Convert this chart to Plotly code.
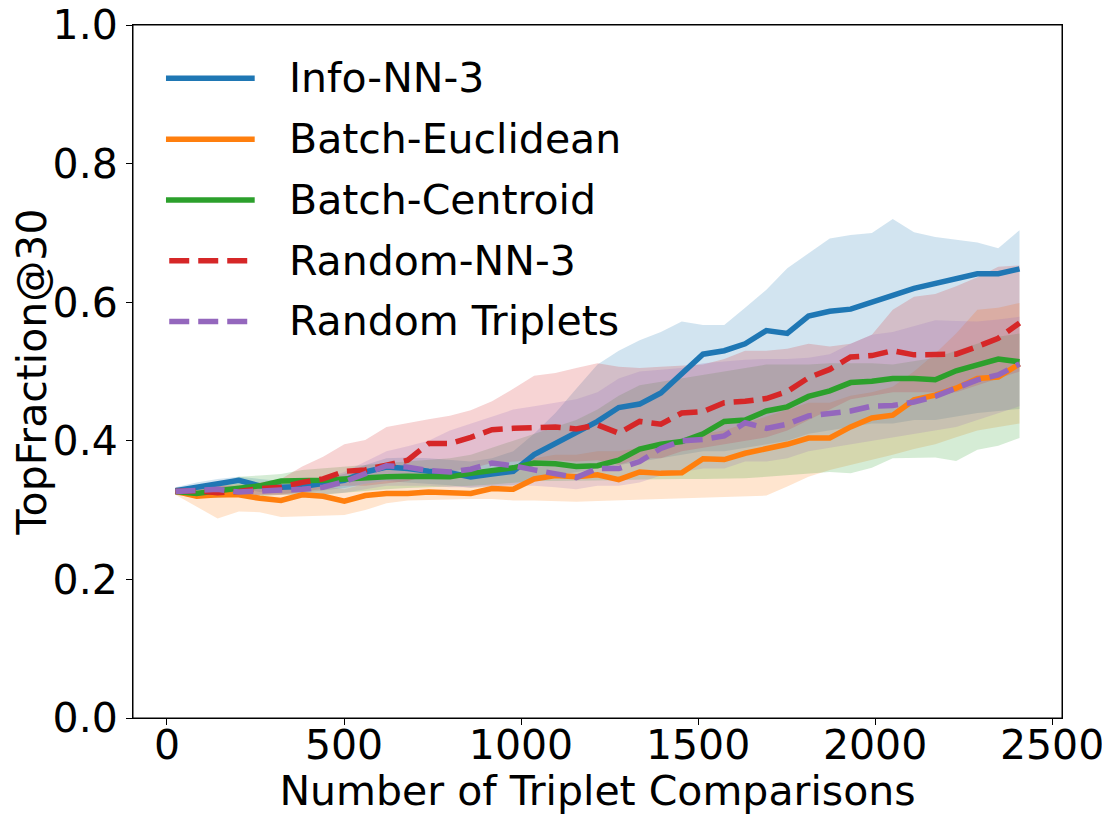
import plotly.graph_objects as go

x_vals = [24, 84, 143, 203, 262, 322, 382, 441, 501, 560, 620, 680, 739, 799, 858, 918, 978,
          1037, 1097, 1156, 1216, 1276, 1335, 1395, 1454, 1514, 1574, 1633, 1693, 1752, 1812,
          1872, 1931, 1991, 2050, 2110, 2170, 2229, 2289, 2348, 2408]

series_names = ["Info-NN-3", "Batch-Euclidean", "Batch-Centroid", "Random-NN-3", "Random Triplets"]

info_nn3 = [0.328, 0.333, 0.336, 0.343, 0.335, 0.333, 0.334, 0.338, 0.343, 0.355, 0.362, 0.360,
            0.356, 0.354, 0.348, 0.352, 0.356, 0.380, 0.396, 0.413, 0.428, 0.448, 0.453, 0.469,
            0.497, 0.525, 0.530, 0.540, 0.559, 0.555, 0.580, 0.587, 0.590, 0.601, 0.610, 0.620,
            0.627, 0.632, 0.641, 0.641, 0.648]
info_nn3_hi = [0.333, 0.340, 0.345, 0.348, 0.345, 0.342, 0.343, 0.346, 0.352, 0.365, 0.375, 0.376,
               0.375, 0.373, 0.370, 0.375, 0.385, 0.410, 0.440, 0.475, 0.510, 0.530, 0.545, 0.557,
               0.572, 0.567, 0.567, 0.592, 0.618, 0.649, 0.671, 0.692, 0.697, 0.700, 0.720, 0.701,
               0.694, 0.690, 0.686, 0.678, 0.704]
info_nn3_lo = [0.322, 0.326, 0.328, 0.333, 0.326, 0.324, 0.325, 0.328, 0.332, 0.338, 0.342, 0.340,
               0.338, 0.336, 0.332, 0.334, 0.336, 0.345, 0.350, 0.355, 0.360, 0.365, 0.370, 0.375,
               0.380, 0.385, 0.385, 0.390, 0.395, 0.400, 0.410, 0.415, 0.420, 0.425, 0.425, 0.430,
               0.430, 0.435, 0.440, 0.443, 0.446]

batch_euc = [0.327, 0.320, 0.322, 0.322, 0.317, 0.314, 0.322, 0.320, 0.313, 0.321, 0.324, 0.324,
             0.326, 0.324, 0.324, 0.331, 0.330, 0.345, 0.350, 0.348, 0.351, 0.344, 0.355, 0.353,
             0.354, 0.374, 0.373, 0.382, 0.388, 0.395, 0.404, 0.404, 0.420, 0.433, 0.437, 0.459,
             0.466, 0.476, 0.490, 0.492, 0.511]
batch_euc_hi = [0.332, 0.330, 0.335, 0.338, 0.335, 0.330, 0.335, 0.335, 0.330, 0.338, 0.342, 0.345,
                0.348, 0.350, 0.352, 0.358, 0.362, 0.375, 0.380, 0.380, 0.385, 0.385, 0.390, 0.395,
                0.400, 0.410, 0.415, 0.425, 0.435, 0.445, 0.455, 0.455, 0.465, 0.470, 0.478, 0.500,
                0.526, 0.555, 0.589, 0.592, 0.599]
batch_euc_lo = [0.322, 0.305, 0.288, 0.298, 0.297, 0.290, 0.291, 0.293, 0.293, 0.300, 0.310, 0.314,
                0.315, 0.315, 0.316, 0.316, 0.314, 0.314, 0.313, 0.312, 0.313, 0.314, 0.315, 0.316,
                0.317, 0.318, 0.319, 0.320, 0.321, 0.334, 0.348, 0.358, 0.365, 0.372, 0.380, 0.388,
                0.395, 0.405, 0.415, 0.420, 0.425]

batch_cen = [0.327, 0.324, 0.328, 0.332, 0.335, 0.342, 0.342, 0.343, 0.345, 0.347, 0.348, 0.349,
             0.349, 0.348, 0.353, 0.358, 0.361, 0.368, 0.367, 0.363, 0.364, 0.372, 0.388, 0.395,
             0.399, 0.410, 0.428, 0.430, 0.443, 0.449, 0.464, 0.472, 0.484, 0.486, 0.490, 0.490,
             0.488, 0.501, 0.509, 0.518, 0.514]
batch_cen_hi = [0.332, 0.332, 0.338, 0.348, 0.350, 0.352, 0.358, 0.360, 0.362, 0.365, 0.368, 0.370,
                0.372, 0.375, 0.380, 0.390, 0.400, 0.410, 0.420, 0.430, 0.445, 0.465, 0.480, 0.485,
                0.490, 0.495, 0.500, 0.505, 0.510, 0.510, 0.510, 0.512, 0.512, 0.512, 0.510, 0.515,
                0.520, 0.530, 0.540, 0.550, 0.555]
batch_cen_lo = [0.322, 0.318, 0.318, 0.320, 0.320, 0.322, 0.322, 0.322, 0.325, 0.328, 0.330, 0.332,
                0.333, 0.333, 0.335, 0.337, 0.340, 0.342, 0.342, 0.342, 0.343, 0.343, 0.344, 0.345,
                0.345, 0.345, 0.345, 0.346, 0.348, 0.350, 0.352, 0.355, 0.353, 0.361, 0.375, 0.376,
                0.376, 0.371, 0.387, 0.393, 0.404]

random_nn3 = [0.327, 0.328, 0.325, 0.327, 0.331, 0.333, 0.340, 0.345, 0.356, 0.358, 0.365, 0.372,
              0.396, 0.396, 0.405, 0.416, 0.418, 0.419, 0.420, 0.417, 0.423, 0.411, 0.428, 0.424,
              0.440, 0.442, 0.455, 0.457, 0.461, 0.471, 0.491, 0.503, 0.521, 0.523, 0.530, 0.524,
              0.524, 0.525, 0.536, 0.548, 0.570]
random_nn3_hi = [0.333, 0.332, 0.335, 0.335, 0.340, 0.345, 0.363, 0.377, 0.395, 0.401, 0.420, 0.426,
                 0.431, 0.436, 0.444, 0.457, 0.475, 0.494, 0.498, 0.505, 0.512, 0.507, 0.505, 0.507,
                 0.508, 0.510, 0.518, 0.530, 0.530, 0.533, 0.540, 0.536, 0.540, 0.553, 0.589, 0.608,
                 0.612, 0.623, 0.636, 0.651, 0.653]
random_nn3_lo = [0.322, 0.322, 0.318, 0.320, 0.322, 0.322, 0.326, 0.330, 0.335, 0.335, 0.338, 0.342,
                 0.350, 0.355, 0.360, 0.368, 0.370, 0.372, 0.372, 0.370, 0.372, 0.365, 0.375, 0.375,
                 0.385, 0.390, 0.395, 0.400, 0.405, 0.415, 0.430, 0.445, 0.460, 0.465, 0.470, 0.470,
                 0.470, 0.470, 0.480, 0.490, 0.500]

random_tri = [0.327, 0.329, 0.330, 0.326, 0.328, 0.329, 0.330, 0.333, 0.341, 0.353, 0.364, 0.362,
              0.357, 0.355, 0.359, 0.368, 0.364, 0.358, 0.353, 0.347, 0.360, 0.360, 0.370, 0.389,
              0.400, 0.402, 0.407, 0.426, 0.418, 0.424, 0.436, 0.440, 0.443, 0.450, 0.451, 0.456,
              0.464, 0.476, 0.488, 0.495, 0.511]
random_tri_hi = [0.332, 0.334, 0.336, 0.334, 0.334, 0.336, 0.340, 0.345, 0.355, 0.370, 0.385, 0.392,
                 0.400, 0.415, 0.425, 0.435, 0.445, 0.450, 0.455, 0.460, 0.470, 0.490, 0.500, 0.502,
                 0.505, 0.512, 0.515, 0.517, 0.518, 0.518, 0.520, 0.525, 0.540, 0.553, 0.557, 0.565,
                 0.574, 0.573, 0.572, 0.575, 0.579]
random_tri_lo = [0.322, 0.324, 0.325, 0.320, 0.322, 0.322, 0.322, 0.323, 0.325, 0.330, 0.335, 0.335,
                 0.335, 0.333, 0.333, 0.335, 0.335, 0.335, 0.333, 0.330, 0.335, 0.335, 0.340, 0.350,
                 0.355, 0.360, 0.360, 0.370, 0.370, 0.375, 0.385, 0.390, 0.395, 0.400, 0.405, 0.410,
                 0.415, 0.420, 0.430, 0.440, 0.450]

x_ticks = [0, 500, 1000, 1500, 2000, 2500]
y_ticks = [0.0, 0.2, 0.4, 0.6, 0.8, 1.0]

means = [info_nn3, batch_euc, batch_cen, random_nn3, random_tri]
highs = [info_nn3_hi, batch_euc_hi, batch_cen_hi, random_nn3_hi, random_tri_hi]
lows = [info_nn3_lo, batch_euc_lo, batch_cen_lo, random_nn3_lo, random_tri_lo]
colors = ["#1f77b4", "#ff7f0e", "#2ca02c", "#d62728", "#9467bd"]
dashes = ["solid", "solid", "solid", "20px,9px", "20px,9px"]


def rgba(hex_color, a):
    h = hex_color.lstrip("#")
    r, g, b = int(h[0:2], 16), int(h[2:4], 16), int(h[4:6], 16)
    return f"rgba({r},{g},{b},{a})"


FONT = "DejaVu Sans"
FS = 41
fig = go.Figure()

for name, hi, lo, c in zip(series_names, highs, lows, colors):
    fig.add_trace(go.Scatter(x=x_vals, y=hi, mode="lines", line=dict(width=0),
                             showlegend=False, hoverinfo="skip"))
    fig.add_trace(go.Scatter(x=x_vals, y=lo, mode="lines", line=dict(width=0),
                             fill="tonexty", fillcolor=rgba(c, 0.2),
                             showlegend=False, hoverinfo="skip"))

for name, m, c, d in zip(series_names, means, colors, dashes):
    fig.add_trace(go.Scatter(x=x_vals, y=m, mode="lines", name=name,
                             line=dict(color=c, width=5.5, dash=d), showlegend=False))

# axes frame + legend drawn as layout items (matplotlib-style long handles)
shapes = [dict(type="rect", xref="paper", yref="paper", x0=0, x1=1, y0=0, y1=1,
               line=dict(color="black", width=1), fillcolor="rgba(0,0,0,0)", layer="above")]
annotations = []
leg_top = 0.923
leg_step = 0.0877
for i, (name, c, d) in enumerate(zip(series_names, colors, dashes)):
    yy = leg_top - i * leg_step
    shapes.append(dict(type="line", xref="paper", yref="paper",
                       x0=0.0355 if d == "solid" else 0.039, x1=0.131 if d == "solid" else 0.124,
                       y0=yy, y1=yy, line=dict(color=c, width=5.5, dash=d)))
    annotations.append(dict(xref="paper", yref="paper", x=0.166, y=yy, text=name,
                            showarrow=False, xanchor="left", yanchor="middle",
                            font=dict(family=FONT, size=FS, color="black")))

# page body has an 8px margin: size/margins chosen so the axes land where the reference has them
fig.update_layout(
    width=1094, height=807,
    margin=dict(l=125, r=40, t=17, b=97, autoexpand=False),
    paper_bgcolor="white", plot_bgcolor="white",
    font=dict(family=FONT, size=FS, color="black"),
    shapes=shapes, annotations=annotations,
    showlegend=False,
)
fig.update_xaxes(range=[-96, 2528], tickvals=x_ticks, ticktext=[str(v) for v in x_ticks],
                 showgrid=False, zeroline=False, showline=True, linecolor="black", linewidth=1,
                 mirror=True, ticks="outside", ticklen=6, tickwidth=1, tickcolor="black",
                 automargin=False, ticklabeloverflow="allow", ticklabelstandoff=-15,
                 title=dict(text="Number of Triplet Comparisons", standoff=6,
                            font=dict(family=FONT, size=FS)),
                 tickfont=dict(family=FONT, size=FS))
fig.update_yaxes(range=[0, 1], tickvals=y_ticks, ticktext=[f"{v:.1f}" for v in y_ticks],
                 showgrid=False, zeroline=False, showline=True, linecolor="black", linewidth=1,
                 mirror=True, ticks="outside", ticklen=6, tickwidth=1, tickcolor="black",
                 automargin=False, ticklabeloverflow="allow",
                 title=dict(text="TopFraction@30", standoff=4, font=dict(family=FONT, size=FS)),
                 tickfont=dict(family=FONT, size=FS))

fig.write_html("out.html")
